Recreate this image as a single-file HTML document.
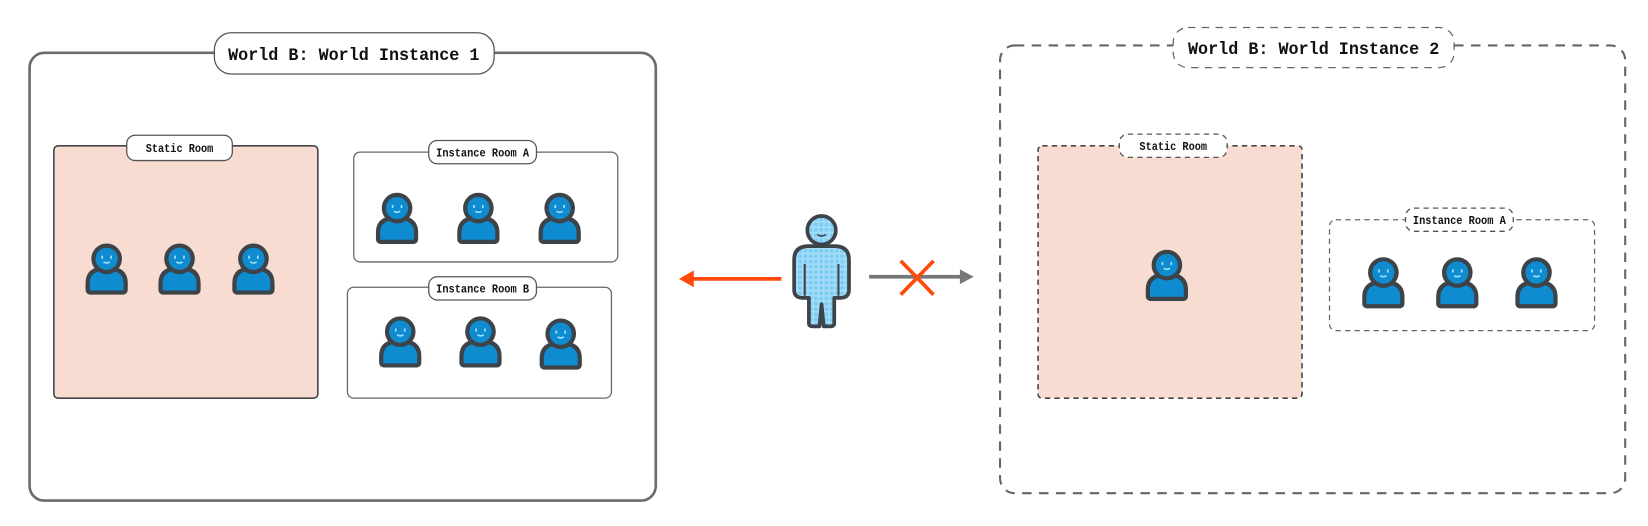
<!DOCTYPE html>
<html><head><meta charset="utf-8"><style>
html,body{margin:0;padding:0;background:#fff;}
svg{display:block}
text{font-family:"Liberation Mono","DejaVu Sans Mono",monospace;font-weight:bold;fill:#111;}
</style></head><body>
<svg width="1648" height="526" viewBox="0 0 1560.6 498" xmlns="http://www.w3.org/2000/svg">
<defs>
<pattern id="grid" width="5" height="5" patternUnits="userSpaceOnUse">
<rect width="5" height="5" fill="#a9def7"/><rect x="0.8" y="0.8" width="3.6" height="3.6" fill="#7ccdf3"/>
</pattern>
<g id="p">
<path d="M-18,18 L-18,12 Q-18,-2 0,-2 Q18,-2 18,12 L18,18 Q18,21 15,21 L-15,21 Q-18,21 -18,18 Z" fill="#0f8bd0" stroke="#3d4449" stroke-width="4" stroke-linejoin="round"/>
<circle cx="0" cy="-11" r="12.5" fill="#0f8bd0" stroke="#3d4449" stroke-width="4"/>
<rect x="-5" y="-14" width="1.6" height="3" fill="#9fe0ff"/><rect x="3.4" y="-14" width="1.6" height="3" fill="#9fe0ff"/>
<path d="M-3,-8 Q0,-6 3,-8" stroke="#9fe0ff" stroke-width="1.5" fill="none"/>
</g>
</defs>

<rect x="28" y="50" width="593" height="424" rx="14" fill="#fff" stroke="#6b6b6b" stroke-width="2.5"/>
<rect x="203" y="31" width="265" height="39" rx="16" fill="#fff" stroke="#555" stroke-width="1.2"/>
<text x="335" y="57" text-anchor="middle" font-size="17" textLength="238" lengthAdjust="spacingAndGlyphs">World B: World Instance 1</text>

<rect x="51" y="138" width="250" height="239" rx="4" fill="#f9dcd1" stroke="#444" stroke-width="1.5"/>
<rect x="120" y="128" width="100" height="24" rx="8" fill="#fff" stroke="#555" stroke-width="1.2"/>
<text x="170" y="144" text-anchor="middle" font-size="11" textLength="64" lengthAdjust="spacingAndGlyphs">Static Room</text>
<use href="#p" x="101" y="256"/><use href="#p" x="170" y="256"/><use href="#p" x="240" y="256"/>

<rect x="335" y="144" width="250" height="104" rx="6" fill="#fff" stroke="#666" stroke-width="1.2"/>
<rect x="406" y="133" width="102" height="22" rx="8" fill="#fff" stroke="#555" stroke-width="1.2"/>
<text x="457" y="148" text-anchor="middle" font-size="11" textLength="88" lengthAdjust="spacingAndGlyphs">Instance Room A</text>
<use href="#p" x="376" y="208"/><use href="#p" x="453" y="208"/><use href="#p" x="530" y="208"/>

<rect x="329" y="272" width="250" height="105" rx="6" fill="#fff" stroke="#666" stroke-width="1.2"/>
<rect x="406" y="262" width="102" height="22" rx="8" fill="#fff" stroke="#555" stroke-width="1.2"/>
<text x="457" y="277" text-anchor="middle" font-size="11" textLength="88" lengthAdjust="spacingAndGlyphs">Instance Room B</text>
<use href="#p" x="379" y="325"/><use href="#p" x="455" y="325"/><use href="#p" x="531" y="327"/>

<line x1="740" y1="264" x2="655" y2="264" stroke="#ff4a0a" stroke-width="3.5"/>
<path d="M643,264 L657,256 L657,272 Z" fill="#ff4a0a"/>
<line x1="823" y1="262" x2="910" y2="262" stroke="#777" stroke-width="3.5"/>
<path d="M922,262 L909,255 L909,269 Z" fill="#777"/>
<line x1="853" y1="247" x2="884" y2="279" stroke="#ff4a0a" stroke-width="3.5"/>
<line x1="884" y1="247" x2="853" y2="279" stroke="#ff4a0a" stroke-width="3.5"/>

<path d="M766,306 L766,282 L760,282 Q752,282 752,274 L752,246 Q752,233 766,233 L790,233 Q804,233 804,246 L804,274 Q804,282 796,282 L790,282 L790,306 Q790,309 786,309 L780,309 L778,288 L776,309 L770,309 Q766,309 766,306 Z" fill="url(#grid)" stroke="#3d4449" stroke-width="3.5" stroke-linejoin="round"/>
<line x1="762" y1="250" x2="762" y2="280" stroke="#3d4449" stroke-width="2"/>
<line x1="794" y1="250" x2="794" y2="280" stroke="#3d4449" stroke-width="2"/>
<circle cx="778" cy="218" r="13.5" fill="url(#grid)" stroke="#3d4449" stroke-width="3.5"/>
<path d="M774,222 Q778,225 782,222" stroke="#3d4449" stroke-width="1.5" fill="none"/>

<rect x="947" y="43" width="592" height="424" rx="14" fill="#fff" stroke="#666" stroke-width="2" stroke-dasharray="9 7"/>
<rect x="1111" y="26" width="266" height="38" rx="14" fill="#fff" stroke="#666" stroke-width="1.2" stroke-dasharray="7 6"/>
<text x="1244" y="51" text-anchor="middle" font-size="17" textLength="238" lengthAdjust="spacingAndGlyphs">World B: World Instance 2</text>

<rect x="983" y="138" width="250" height="239" rx="4" fill="#f9dcd1" stroke="#444" stroke-width="1.5" stroke-dasharray="5 4"/>
<rect x="1060" y="127" width="102" height="22" rx="8" fill="#fff" stroke="#555" stroke-width="1.2" stroke-dasharray="5 4"/>
<text x="1111" y="142" text-anchor="middle" font-size="11" textLength="64" lengthAdjust="spacingAndGlyphs">Static Room</text>
<use href="#p" x="1105" y="262"/>

<rect x="1259" y="208" width="251" height="105" rx="6" fill="#fff" stroke="#666" stroke-width="1.2" stroke-dasharray="5 4"/>
<rect x="1331" y="197" width="102" height="22" rx="8" fill="#fff" stroke="#555" stroke-width="1.2" stroke-dasharray="5 4"/>
<text x="1382" y="212" text-anchor="middle" font-size="11" textLength="88" lengthAdjust="spacingAndGlyphs">Instance Room A</text>
<use href="#p" x="1310" y="269"/><use href="#p" x="1380" y="269"/><use href="#p" x="1455" y="269"/>
</svg>
</body></html>
